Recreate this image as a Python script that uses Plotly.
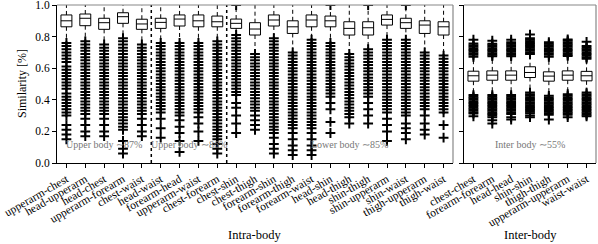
import plotly.graph_objects as go

# ---------------- data ----------------
cats_intra = ["upperarm-chest", "head-upperarm", "head-chest", "upperarm-forearm", "chest-waist",
              "head-waist", "forearm-head", "upperarm-waist", "chest-forearm",
              "chest-shin", "chest-thigh", "forearm-shin", "forearm-thigh", "forearm-waist",
              "head-shin", "head-thigh", "shin-thigh", "shin-upperarm", "shin-waist",
              "thigh-upperarm", "thigh-waist"]
q1_intra = [0.862, 0.869, 0.846, 0.884, 0.846, 0.852, 0.867, 0.862, 0.862, 0.852, 0.810,
            0.867, 0.820, 0.862, 0.862, 0.810, 0.810, 0.873, 0.852, 0.820, 0.810]
med_intra = [0.900, 0.916, 0.888, 0.926, 0.880, 0.890, 0.911, 0.900, 0.894, 0.884, 0.848,
             0.905, 0.862, 0.905, 0.900, 0.852, 0.856, 0.909, 0.888, 0.873, 0.862]
q3_intra = [0.937, 0.943, 0.916, 0.951, 0.910, 0.916, 0.937, 0.937, 0.930, 0.911, 0.888,
            0.937, 0.900, 0.937, 0.930, 0.894, 0.894, 0.937, 0.916, 0.900, 0.894]
hiw_intra = [1.0, 1.0, 1.0, 1.0, 1.0, 1.0, 1.0, 1.0, 1.0, 0.99, 1.0,
             1.0, 1.0, 1.0, 0.99, 1.0, 0.99, 1.0, 0.99, 1.0, 1.0]
low_intra = [0.78, 0.79, 0.77, 0.81, 0.77, 0.78, 0.78, 0.78, 0.79, 0.82, 0.71,
             0.81, 0.72, 0.80, 0.78, 0.71, 0.74, 0.80, 0.80, 0.72, 0.70]

fliers_intra = [
    [0.76, 0.74, 0.72, 0.70, 0.68, 0.66, 0.64, 0.61, 0.59, 0.57, 0.55, 0.53, 0.51, 0.49, 0.47, 0.44, 0.42, 0.40, 0.38, 0.36, 0.34, 0.32, 0.30, 0.24, 0.21, 0.18, 0.15],
    [0.77, 0.75, 0.73, 0.71, 0.69, 0.67, 0.65, 0.63, 0.61, 0.59, 0.57, 0.55, 0.53, 0.51, 0.49, 0.47, 0.45, 0.43, 0.41, 0.39, 0.37, 0.35, 0.33, 0.31, 0.28, 0.24, 0.20, 0.17],
    [0.75, 0.73, 0.71, 0.69, 0.67, 0.65, 0.63, 0.61, 0.59, 0.57, 0.55, 0.53, 0.51, 0.49, 0.47, 0.45, 0.43, 0.41, 0.39, 0.37, 0.35, 0.33, 0.31, 0.28, 0.24, 0.20, 0.17],
    [0.79, 0.77, 0.75, 0.73, 0.71, 0.69, 0.67, 0.65, 0.63, 0.61, 0.59, 0.57, 0.55, 0.53, 0.51, 0.49, 0.47, 0.45, 0.43, 0.41, 0.39, 0.37, 0.35, 0.33, 0.31, 0.29, 0.27, 0.25, 0.23, 0.21, 0.14, 0.09, 0.06],
    [0.75, 0.73, 0.71, 0.69, 0.67, 0.65, 0.63, 0.61, 0.59, 0.57, 0.55, 0.53, 0.51, 0.49, 0.47, 0.45, 0.43, 0.41, 0.39, 0.37, 0.35, 0.33, 0.31, 0.28, 0.24, 0.20, 0.17],
    [0.76, 0.74, 0.72, 0.70, 0.68, 0.66, 0.64, 0.62, 0.60, 0.58, 0.56, 0.54, 0.52, 0.50, 0.48, 0.46, 0.44, 0.42, 0.40, 0.38, 0.36, 0.34, 0.32, 0.28, 0.22, 0.16],
    [0.76, 0.74, 0.72, 0.70, 0.68, 0.66, 0.64, 0.62, 0.60, 0.58, 0.56, 0.54, 0.52, 0.50, 0.48, 0.46, 0.44, 0.42, 0.40, 0.38, 0.36, 0.34, 0.32, 0.30, 0.27, 0.23, 0.19, 0.14, 0.07],
    [0.76, 0.74, 0.72, 0.70, 0.68, 0.66, 0.64, 0.62, 0.60, 0.58, 0.56, 0.54, 0.52, 0.50, 0.48, 0.46, 0.44, 0.42, 0.40, 0.38, 0.36, 0.34, 0.32, 0.29, 0.25, 0.20, 0.14],
    [0.77, 0.75, 0.73, 0.71, 0.69, 0.67, 0.65, 0.63, 0.61, 0.59, 0.57, 0.55, 0.53, 0.51, 0.49, 0.47, 0.45, 0.43, 0.41, 0.39, 0.37, 0.35, 0.33, 0.31, 0.29, 0.27, 0.25, 0.23, 0.21, 0.19, 0.17, 0.15, 0.12, 0.09, 0.06],
    [1.00, 0.81, 0.79, 0.77, 0.75, 0.73, 0.71, 0.69, 0.67, 0.65, 0.63, 0.61, 0.59, 0.57, 0.55, 0.53, 0.51, 0.49, 0.47, 0.45, 0.43, 0.38, 0.35, 0.30, 0.25, 0.19],
    [0.69, 0.67, 0.65, 0.63, 0.61, 0.59, 0.57, 0.55, 0.53, 0.51, 0.49, 0.47, 0.45, 0.43, 0.41, 0.39, 0.37, 0.35, 0.33, 0.30, 0.27, 0.24, 0.21],
    [0.79, 0.77, 0.75, 0.73, 0.71, 0.69, 0.67, 0.65, 0.63, 0.61, 0.59, 0.57, 0.55, 0.53, 0.51, 0.49, 0.47, 0.45, 0.43, 0.41, 0.39, 0.37, 0.35, 0.33, 0.31, 0.29, 0.27, 0.25, 0.23, 0.21, 0.19, 0.16, 0.12, 0.09, 0.06],
    [0.70, 0.68, 0.66, 0.64, 0.62, 0.60, 0.58, 0.56, 0.54, 0.52, 0.50, 0.48, 0.46, 0.44, 0.42, 0.40, 0.38, 0.36, 0.34, 0.32, 0.30, 0.28, 0.26, 0.24, 0.22, 0.19, 0.15, 0.11, 0.08, 0.05],
    [0.78, 0.76, 0.74, 0.72, 0.70, 0.68, 0.66, 0.64, 0.62, 0.60, 0.58, 0.56, 0.54, 0.52, 0.50, 0.48, 0.46, 0.44, 0.42, 0.40, 0.38, 0.36, 0.34, 0.32, 0.30, 0.28, 0.26, 0.24, 0.22, 0.19, 0.15, 0.11, 0.08, 0.05],
    [1.00, 0.76, 0.74, 0.72, 0.70, 0.68, 0.66, 0.64, 0.62, 0.60, 0.58, 0.56, 0.54, 0.52, 0.50, 0.48, 0.46, 0.44, 0.42, 0.38, 0.34, 0.26, 0.19],
    [0.69, 0.67, 0.65, 0.63, 0.61, 0.59, 0.57, 0.55, 0.53, 0.51, 0.49, 0.47, 0.45, 0.43, 0.41, 0.39, 0.37, 0.35, 0.33, 0.31, 0.29, 0.25],
    [1.00, 0.72, 0.70, 0.68, 0.66, 0.64, 0.62, 0.60, 0.58, 0.56, 0.54, 0.52, 0.50, 0.48, 0.46, 0.44, 0.42, 0.38, 0.34, 0.30, 0.25],
    [0.78, 0.76, 0.74, 0.72, 0.70, 0.68, 0.66, 0.64, 0.62, 0.60, 0.58, 0.56, 0.54, 0.52, 0.50, 0.48, 0.46, 0.44, 0.42, 0.40, 0.38, 0.36, 0.34, 0.32, 0.28, 0.24, 0.20, 0.14],
    [1.00, 0.78, 0.76, 0.74, 0.72, 0.70, 0.68, 0.66, 0.64, 0.62, 0.60, 0.58, 0.56, 0.54, 0.52, 0.50, 0.48, 0.46, 0.44, 0.42, 0.40, 0.38, 0.36, 0.34, 0.32, 0.30, 0.25, 0.22, 0.19, 0.15],
    [0.70, 0.68, 0.66, 0.64, 0.62, 0.60, 0.58, 0.56, 0.54, 0.52, 0.50, 0.48, 0.46, 0.44, 0.42, 0.40, 0.38, 0.36, 0.34, 0.30, 0.25, 0.21, 0.18],
    [0.68, 0.66, 0.64, 0.62, 0.60, 0.58, 0.56, 0.54, 0.52, 0.50, 0.48, 0.46, 0.44, 0.42, 0.40, 0.38, 0.36, 0.34, 0.32, 0.24, 0.16],
]

cats_inter = ["chest-chest", "forearm-forearm", "head-head", "shin-shin", "thigh-thigh",
              "upperarm-upperarm", "waist-waist"]
q1_inter = [0.518, 0.524, 0.524, 0.541, 0.518, 0.524, 0.520]
med_inter = [0.552, 0.556, 0.556, 0.573, 0.550, 0.556, 0.552]
q3_inter = [0.581, 0.583, 0.583, 0.609, 0.577, 0.583, 0.580]
hiw_inter = [0.66, 0.66, 0.66, 0.68, 0.66, 0.67, 0.65]
low_inter = [0.44, 0.44, 0.44, 0.45, 0.43, 0.44, 0.45]
fliers_inter = [
    [0.78, 0.757, 0.745, 0.735, 0.725, 0.715, 0.705, 0.695, 0.685, 0.672, 0.43, 0.42, 0.41, 0.40, 0.39, 0.38, 0.37, 0.36, 0.35, 0.34, 0.33, 0.32, 0.313, 0.296],
    [0.774, 0.755, 0.745, 0.735, 0.725, 0.715, 0.705, 0.695, 0.685, 0.676, 0.43, 0.42, 0.41, 0.40, 0.39, 0.38, 0.37, 0.36, 0.35, 0.34, 0.33, 0.32, 0.31, 0.30, 0.29, 0.27, 0.25],
    [0.78, 0.765, 0.755, 0.745, 0.735, 0.725, 0.715, 0.705, 0.695, 0.685, 0.676, 0.43, 0.42, 0.41, 0.40, 0.39, 0.38, 0.37, 0.36, 0.35, 0.34, 0.33, 0.32, 0.31, 0.29, 0.275],
    [0.813, 0.79, 0.78, 0.77, 0.76, 0.75, 0.74, 0.73, 0.72, 0.71, 0.70, 0.69, 0.446, 0.435, 0.425, 0.415, 0.405, 0.395, 0.385, 0.375, 0.365, 0.355, 0.345, 0.335, 0.325, 0.315, 0.30, 0.29],
    [0.765, 0.755, 0.745, 0.735, 0.725, 0.715, 0.705, 0.695, 0.685, 0.672, 0.425, 0.415, 0.405, 0.395, 0.385, 0.375, 0.365, 0.355, 0.345, 0.335, 0.325, 0.315, 0.305, 0.275],
    [0.782, 0.775, 0.765, 0.755, 0.745, 0.735, 0.725, 0.715, 0.705, 0.695, 0.685, 0.678, 0.435, 0.425, 0.415, 0.405, 0.395, 0.385, 0.375, 0.365, 0.355, 0.345, 0.335, 0.325, 0.315, 0.305, 0.29],
    [0.767, 0.74, 0.73, 0.72, 0.71, 0.70, 0.69, 0.68, 0.67, 0.66, 0.446, 0.435, 0.425, 0.415, 0.405, 0.395, 0.385, 0.375, 0.365, 0.355, 0.345, 0.335, 0.325, 0.315, 0.305, 0.296],
]

notes = ["Upper body \u223c87%", "Upper body \u223c86%", "Lower body \u223c85%", "Inter body \u223c55%"]
note_x = [2.0, 6.5, 15.0, 3.0]
note_y = [0.115, 0.115, 0.115, 0.12]
group_breaks = [4.5, 8.5]

FONT = "Liberation Serif"

fig = go.Figure()


def add_panel(cats, q1, med, q3, hiw, low, fliers, xa, ya):
    # dashed whiskers
    wx, wy = [], []
    for c, a, b, lo, hi in zip(cats, q1, q3, low, hiw):
        wx += [c, c, None, c, c, None]
        wy += [b, hi, None, a, lo, None]
    fig.add_trace(go.Scatter(x=wx, y=wy, mode="lines", xaxis=xa, yaxis=ya,
                             line=dict(color="black", width=1, dash="4px,3px"),
                             showlegend=False, hoverinfo="skip"))
    # boxes
    fig.add_trace(go.Box(x=cats, q1=q1, median=med, q3=q3, lowerfence=q1, upperfence=q3,
                         xaxis=xa, yaxis=ya, fillcolor="white", width=0.58,
                         line=dict(color="black", width=1), whiskerwidth=0,
                         boxpoints=False, showlegend=False, hoverinfo="skip"))
    # fliers
    fx, fy = [], []
    for c, vals in zip(cats, fliers):
        fx += [c] * len(vals)
        fy += vals
    fig.add_trace(go.Scatter(x=fx, y=fy, mode="markers", xaxis=xa, yaxis=ya,
                             marker=dict(symbol="cross-thin", size=7, color="black",
                                         line=dict(width=2.0, color="black")),
                             showlegend=False, hoverinfo="skip"))


add_panel(cats_intra, q1_intra, med_intra, q3_intra, hiw_intra, low_intra, fliers_intra, "x", "y")
add_panel(cats_inter, q1_inter, med_inter, q3_inter, hiw_inter, low_inter, fliers_inter, "x2", "y2")

axis_common = dict(showgrid=False, zeroline=False, showline=True, linecolor="black", linewidth=1,
                   ticks="outside", ticklen=4, tickcolor="black", ticklabeloverflow="allow",
                   tickfont=dict(family=FONT, size=11.5, color="black"))
L = 57
W = 598 - L - 2
fig.update_layout(
    width=598, height=244,
    margin=dict(l=L, r=2, t=5, b=81, autoexpand=False),
    paper_bgcolor="white", plot_bgcolor="white",
    font=dict(family=FONT, color="black"),
    hovermode=False,
    xaxis=dict(domain=[0, 396 / W], type="category", categoryorder="array",
               categoryarray=cats_intra, range=[-0.5, len(cats_intra) - 0.5],
               tickangle=-30, **axis_common),
    yaxis=dict(range=[0, 1], dtick=0.2, tickformat=".1f", **axis_common),
    xaxis2=dict(domain=[(464 - L) / W, 1], type="category", categoryorder="array",
                categoryarray=cats_inter, range=[-0.5, len(cats_inter) - 0.5],
                tickangle=-30, anchor="y2", **axis_common),
    yaxis2=dict(range=[0, 1], dtick=0.2, anchor="x2", showticklabels=False, **axis_common),
)

shapes = []
for xb in group_breaks:
    shapes.append(dict(type="line", xref="x", yref="y", x0=xb, x1=xb, y0=0, y1=1,
                       line=dict(color="black", width=1.5, dash="dot")))
for xr, yr in [("x domain", "y domain"), ("x2 domain", "y2 domain")]:
    shapes.append(dict(type="line", xref=xr, yref=yr, x0=0, x1=1, y0=1, y1=1,
                       line=dict(color="#888888", width=1.2)))
    shapes.append(dict(type="line", xref=xr, yref=yr, x0=1, x1=1, y0=0, y1=1,
                       line=dict(color="#888888", width=1.2)))
fig.update_layout(shapes=shapes)

ann = []
for i, (t, xv, yv) in enumerate(zip(notes, note_x, note_y)):
    xr, yr = ("x", "y") if i < 3 else ("x2", "y2")
    ann.append(dict(text=t, x=xv, y=yv, xref=xr, yref=yr, showarrow=False,
                    font=dict(family=FONT, size=10, color="#777777")))
ann.append(dict(text="Intra-body", xref="x domain", yref="paper", x=0.5, y=0, yshift=-72,
                yanchor="middle", showarrow=False, font=dict(family=FONT, size=12.5, color="black")))
ann.append(dict(text="Inter-body", xref="x2 domain", yref="paper", x=0.5, y=0, yshift=-72,
                yanchor="middle", showarrow=False, font=dict(family=FONT, size=12.5, color="black")))
ann.append(dict(text="Similarity [%]", xref="paper", yref="paper", x=0, y=0.5, xshift=-35,
                xanchor="center", textangle=-90, showarrow=False,
                font=dict(family=FONT, size=12, color="black")))
fig.update_layout(annotations=ann)

fig.write_html("out.html", config={"displayModeBar": False},
               post_script="document.body.style.margin='0';")
